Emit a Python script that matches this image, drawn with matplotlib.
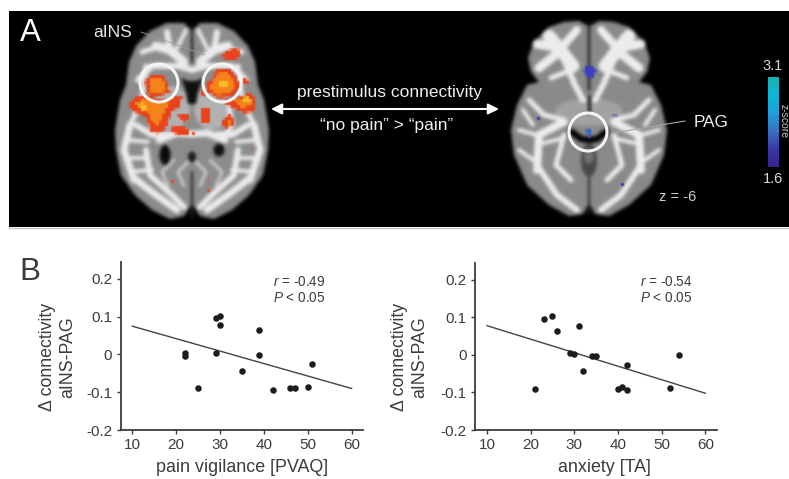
import numpy as np
import matplotlib
matplotlib.use("Agg")
import matplotlib.pyplot as plt
from matplotlib.figure import Figure
from matplotlib.backends.backend_agg import FigureCanvasAgg
from matplotlib.patches import Polygon, Circle, FancyArrowPatch, Ellipse
from matplotlib.colors import LinearSegmentedColormap

plt.rcParams['font.family'] = ['Liberation Sans', 'DejaVu Sans']
plt.rcParams['mathtext.fontset'] = 'custom'
plt.rcParams['mathtext.rm'] = 'Liberation Sans'
plt.rcParams['mathtext.it'] = 'Liberation Sans:italic'

# ---- data ----
vigilance = [22, 22, 25, 29, 30, 30, 29, 35, 39, 39, 42, 46, 47, 50, 51]
conn_left = [0.005, -0.005, -0.09, 0.096, 0.103, 0.079, 0.003, -0.043, 0.065, -0.002, -0.093, -0.088, -0.088, -0.085, -0.026]
fit_left_x = [10, 60]
fit_left_y = [0.075, -0.09]

anxiety = [21, 23, 25, 26, 29, 30, 31, 32, 34, 35, 40, 41, 42, 42, 52, 54]
conn_right = [-0.09, 0.096, 0.103, 0.065, 0.005, 0.003, 0.078, -0.043, -0.004, -0.003, -0.09, -0.085, -0.093, -0.027, -0.088, -0.001]
fit_right_x = [10, 60]
fit_right_y = [0.078, -0.102]

xticks = [10, 20, 30, 40, 50, 60]
yticks = [-0.2, -0.1, 0, 0.1, 0.2]
yticklabels = ['-0.2', '-0.1', '0', '0.1', '0.2']

W, H = 789, 479
INK = '#3c3c3c'

# ---- brain illustration, drawn offscreen and softened ----
def half(cx, pts):
    right = [(cx + dx, y) for dx, y in pts]
    left = [(cx - dx, y) for dx, y in reversed(pts)]
    return right + left

def stroke(ax, pts, lw, c):
    a = np.array(pts)
    ax.plot(a[:, 0], a[:, 1], color=c, lw=lw * 0.72, solid_capstyle='round', solid_joinstyle='round', zorder=3)

def both(ax, cx, pts, lw, c):
    stroke(ax, [(cx + d, y) for d, y in pts], lw, c)
    stroke(ax, [(cx - d, y) for d, y in pts], lw, c)

def fill(ax, pts, c, z=4):
    ax.add_patch(Polygon(pts, fc=c, ec='none', zorder=z))

def oval(ax, xy, w, h, c, z=2):
    ax.add_patch(Ellipse(xy, w, h, fc=c, ec='none', zorder=z))

def brain_a(ax):
    cx = 192
    fill(ax, half(cx, [(1, 30), (8, 23), (25, 23), (42, 31), (56, 46), (63, 62), (66, 85), (72, 100),
                       (74, 112), (77, 130), (76, 150), (71, 175), (57, 195), (40, 210), (22, 219), (8, 216), (1, 205)]),
         '#8c8c8c', 1)
    oval(ax, (cx + 20, 108), 36, 44, '#b2b2b2')
    oval(ax, (cx - 20, 108), 36, 44, '#b2b2b2')
    # white matter
    for pts, lw in [([(8, 62), (22, 50), (36, 46)], 9), ([(22, 50), (25, 32)], 6), ([(30, 46), (50, 52)], 5),
                    ([(6, 30), (15, 48)], 4), ([(0, 70), (14, 66), (40, 66), (54, 80)], 6),
                    ([(46, 66), (50, 100), (62, 125)], 5),
                    ([(62, 125), (68, 150), (58, 180)], 7), ([(56, 125), (40, 135), (26, 134)], 6),
                    ([(64, 140), (44, 142)], 4), ([(66, 158), (44, 158)], 4), ([(62, 172), (40, 170)], 4),
                    ([(58, 178), (40, 192), (15, 210)], 7), ([(46, 150), (42, 175), (20, 195), (8, 207)], 6),
                    ([(30, 140), (40, 125), (37, 105)], 5), ([(0, 134), (15, 133), (33, 140)], 7)]:
        both(ax, cx, pts, lw, '#ececec')
    # ventricles and fissures
    fill(ax, [(cx - 11, 78), (cx - 4, 81), (cx + 4, 81), (cx + 11, 78), (cx + 6, 92), (cx + 4, 104),
              (cx - 4, 104), (cx - 6, 92)], '#101010')
    oval(ax, (cx - 27, 155), 11, 20, '#0a0a0a', 4)
    oval(ax, (cx + 27, 150), 11, 13, '#101010', 4)
    oval(ax, (cx, 157), 8, 11, '#1a1a1a', 4)
    stroke(ax, [(cx, 24), (cx, 62)], 2.2, '#161616')
    stroke(ax, [(cx, 172), (cx, 218)], 2.2, '#222222')
    for d in (14, 30):
        both(ax, cx, [(d - 12, 160), (d, 172), (d - 6, 186)], 2.5, '#d8d8d8')

def blobs_a(ax):
    red, orange, yellow = '#e8431c', '#f5841a', '#fabc2a'
    for b in [
        [(222, 55), (228, 50), (238, 48), (241, 56), (236, 59), (224, 59)],
        [(243, 77), (248, 80), (249, 85), (244, 84)],
        [(129, 102), (138, 96), (146, 94), (160, 100), (175, 97), (182, 97), (180, 106), (172, 112), (168, 122), (165, 130),
         (156, 134), (150, 130), (147, 118), (137, 113), (129, 108)],
        [(225, 100), (240, 97), (250, 93), (256, 100), (254, 112), (244, 113), (232, 107), (225, 105)],
        [(202, 107), (210, 107), (210, 123), (202, 123)],
        [(224, 118), (230, 114), (235, 122), (234, 126), (226, 128), (222, 124)],
        [(170, 128), (180, 125), (190, 130), (190, 135), (178, 135), (171, 131)],
        [(178, 115), (188, 115), (190, 120), (185, 122), (180, 120)],
        [(145, 80), (150, 76), (163, 75), (168, 85), (170, 92), (160, 96), (150, 95), (146, 90)],
        [(215, 69), (228, 68), (237, 78), (241, 88), (232, 97), (218, 98), (208, 92), (205, 84), (214, 78)],
        [(202, 91), (208, 92), (208, 97), (202, 96)],
    ]:
        fill(ax, b, red)
    for b in [
        [(135, 103), (146, 98), (160, 103), (170, 102), (163, 115), (158, 127), (152, 122), (148, 112), (138, 108)],
        [(149, 79), (162, 78), (167, 90), (158, 94), (149, 91)],
        [(218, 73), (228, 73), (236, 84), (231, 93), (218, 95), (209, 88)],
        [(234, 100), (248, 96), (252, 104), (242, 109)],
        [(226, 119), (232, 121), (229, 126)],
    ]:
        fill(ax, b, orange, 5)
    oval(ax, (143, 107), 7, 8, yellow, 6)
    oval(ax, (247, 100), 8, 6, yellow, 6)
    oval(ax, (224, 84), 9, 8, yellow, 6)
    for x, y in [(255, 149), (173, 182), (209, 180), (209, 191), (194, 133)]:
        ax.add_patch(Circle((x, y), 1.3, fc=red, ec='none', zorder=5))

def brain_b(ax):
    cx = 589
    fill(ax, half(cx, [(1, 26), (10, 21), (25, 22), (40, 27), (55, 42), (61, 58), (58, 72), (50, 82),
                       (62, 85), (72, 105), (78, 130), (75, 155), (62, 185), (40, 205), (20, 216), (6, 214), (1, 205)]),
         '#8a8a8a', 1)
    # frontal white matter
    for pts, lw in [([(16, 66), (30, 48), (40, 36)], 13), ([(30, 48), (52, 44)], 9), ([(30, 52), (50, 68)], 9),
                    ([(12, 30), (28, 48)], 8), ([(24, 62), (14, 85), (6, 100)], 6), ([(18, 70), (38, 78)], 5),
                    ([(25, 120), (45, 115), (60, 100)], 5), ([(25, 122), (50, 135), (52, 170)], 8),
                    ([(52, 135), (70, 130)], 4), ([(52, 165), (32, 195), (12, 210)], 6), ([(56, 160), (70, 150)], 4),
                    ([(25, 135), (33, 165), (18, 180)], 5), ([(25, 138), (45, 143)], 4), ([(66, 110), (56, 125)], 4)]:
        both(ax, cx, pts, lw, '#ededed')
    oval(ax, (cx, 112), 68, 28, '#a2a2a2', 2)
    stroke(ax, [(cx, 22), (cx, 90)], 2.2, '#121212')
    stroke(ax, [(cx, 96), (cx, 112)], 3, '#161616')
    stroke(ax, [(cx - 17, 132), (cx - 8, 139), (cx, 140), (cx + 8, 139), (cx + 17, 132)], 6.5, '#030303')
    oval(ax, (cx, 160), 16, 34, '#484848', 4)
    oval(ax, (cx, 156), 10, 15, '#747474', 5)
    stroke(ax, [(cx, 178), (cx, 214)], 2, '#222222')

def blobs_b(ax):
    blue = '#3b3fc0'
    fill(ax, [(585, 67), (591, 66), (596, 69), (595, 76), (590, 78), (586, 76), (583, 72)], blue)
    fill(ax, [(586, 129), (592, 129), (591, 137), (587, 136)], '#3560c8')
    for x, y in [(539, 119), (615, 115), (623, 184)]:
        ax.add_patch(Circle((x, y), 1.5, fc='#3232b0', ec='none', zorder=5))

def render(fns):
    off = Figure(figsize=(W / 100, H / 100), dpi=100, facecolor=(0, 0, 0, 0))
    canvas = FigureCanvasAgg(off)
    oax = off.add_axes([0, 0, 1, 1])
    oax.set_xlim(0, W); oax.set_ylim(H, 0); oax.axis('off')
    for fn in fns:
        fn(oax)
    canvas.draw()
    return np.asarray(canvas.buffer_rgba()).astype(float) / 255

def soften(a, sigma):
    fy = np.fft.fftfreq(a.shape[0])[:, None]
    fx = np.fft.fftfreq(a.shape[1])[None, :]
    g = np.exp(-2 * (np.pi * sigma) ** 2 * (fx ** 2 + fy ** 2))
    return np.stack([np.fft.ifft2(np.fft.fft2(a[:, :, i]) * g).real for i in range(a.shape[2])], axis=2).clip(0, 1)

grey = render([brain_a, brain_b])
grey = soften(grey[:, :, :3] * grey[:, :, 3:], 1.7)
colour = render([blobs_a, blobs_b])
# blocky voxel look for the activation maps
colour = np.repeat(np.repeat(colour[1::3, 1::3], 3, axis=0), 3, axis=1)[:H, :W]
alpha = soften(colour[:, :, 3:], 0.7)
tint = soften(colour[:, :, :3] * colour[:, :, 3:], 0.7) / np.maximum(alpha, 0.02)
soft = (grey * (1 - alpha) + tint.clip(0, 1) * alpha).clip(0, 1)

# ---- main figure ----
fig = plt.figure(figsize=(W / 100, H / 100), dpi=100, facecolor='white')
bg = fig.add_axes([0, 0, 1, 1], zorder=0)
PX0, PX1, PY0, PY1 = 9, 789, 11, 227
bg.imshow(soft[PY0:PY1, PX0:PX1], extent=(PX0, PX1, PY1, PY0), interpolation='bilinear', aspect='auto', zorder=1)
bg.set_xlim(0, W); bg.set_ylim(H, 0); bg.axis('off')
bg.plot([PX0, PX1], [228, 228], color='#c8c8c8', lw=1, zorder=1)

for c in [(159, 83), (222, 83), (588, 132)]:
    bg.add_patch(Circle(c, 19, fc='none', ec='#f4f4f4', lw=2.2, zorder=3))

bg.plot([141, 205], [32, 55], color='#9a9a9a', lw=0.6, zorder=3)
bg.plot([613, 685], [133, 121], color='#a8a8a8', lw=0.8, zorder=3)
bg.add_patch(FancyArrowPatch((499, 109), (271, 109), arrowstyle='<|-|>', mutation_scale=16, lw=1.5,
                             color='white', shrinkA=0, shrinkB=0, zorder=3))

bg.text(30, 33, 'A', color='white', fontsize=22.5, ha='center', va='center', zorder=4)
bg.text(113, 32, 'aINS', color='#e8e8e8', fontsize=12.5, ha='center', va='center', zorder=4)
bg.text(390, 92, 'prestimulus connectivity', color='#eeeeee', fontsize=12.5, ha='center', va='center', zorder=4)
bg.text(387, 125, '“no pain” > “pain”', color='#eeeeee', fontsize=12.5, ha='center', va='center', zorder=4)
bg.text(711, 122, 'PAG', color='#eeeeee', fontsize=12.3, ha='center', va='center', zorder=4)
bg.text(678, 197, 'z = -6', color='#d0d0d0', fontsize=10.5, ha='center', va='center', zorder=4)
bg.text(773, 66, '3.1', color='#d8d8d8', fontsize=10.5, ha='center', va='center', zorder=4)
bg.text(773, 179, '1.6', color='#d8d8d8', fontsize=10.5, ha='center', va='center', zorder=4)
bg.text(784, 121, 'z-score', color='#c8c8c8', fontsize=7.5, rotation=-90, ha='center', va='center', zorder=4)

cmap = LinearSegmentedColormap.from_list('z', ['#38238c', '#3a3aa8', '#3a70c0', '#1fa0dc', '#0cb8d8', '#18b0b0'])
bg.imshow(np.linspace(1, 0, 90)[:, None], cmap=cmap, extent=(768, 779, 167, 77), aspect='auto', zorder=3)
bg.set_xlim(0, W); bg.set_ylim(H, 0)

bg.text(30, 272, 'B', color=INK, fontsize=22.5, ha='center', va='center', zorder=4)

def panel(left, right, top, bottom, xlim, ylim, x, y, fx_, fy_, xlabel, xlabel_pos, ylab_x, stat, stat_x):
    ax = fig.add_axes([left / W, 1 - bottom / H, (right - left) / W, (bottom - top) / H], zorder=2)
    ax.patch.set_alpha(0)
    ax.set_xlim(xlim); ax.set_ylim(ylim)
    for s in ('top', 'right'):
        ax.spines[s].set_visible(False)
    for s in ('left', 'bottom'):
        ax.spines[s].set_linewidth(1.3)
        ax.spines[s].set_color(INK)
    ax.set_xticks(xticks); ax.set_yticks(yticks); ax.set_yticklabels(yticklabels)
    ax.tick_params(length=3, width=1, color=INK, labelcolor=INK, labelsize=11, pad=3)
    ax.plot(fx_, fy_, color='#444444', lw=1.0, zorder=2)
    ax.scatter(x, y, s=22, color='#1c1c1c', zorder=3, linewidths=0)
    bg.text(xlabel_pos, 468, xlabel, color=INK, fontsize=12.9, ha='center', va='center', zorder=4)
    bg.text(ylab_x, 357, 'Δ connectivity', color=INK, fontsize=12.8, rotation=90, ha='center', va='center', zorder=4)
    bg.text(ylab_x + 20, 357, 'aINS-PAG', color=INK, fontsize=12.8, rotation=90, ha='center', va='center', zorder=4)
    bg.text(stat_x, 282, stat[0], color=INK, fontsize=9.8, ha='left', va='center', zorder=4)
    bg.text(stat_x, 298, stat[1], color=INK, fontsize=9.8, ha='left', va='center', zorder=4)

panel(120.7, 363, 262, 430, (7.36, 62.6), (-0.2, 0.245), vigilance, conn_left, fit_left_x, fit_left_y,
      'pain vigilance [PVAQ]', 242, 48, (r'$\mathit{r}$ = -0.49', r'$\mathit{P}$ < 0.05'), 273)
panel(475, 717, 263, 430, (7.25, 62.68), (-0.2, 0.245), anxiety, conn_right, fit_right_x, fit_right_y,
      'anxiety [TA]', 604, 400, (r'$\mathit{r}$ = -0.54', r'$\mathit{P}$ < 0.05'), 640)

fig.savefig('out.png', dpi=100)
